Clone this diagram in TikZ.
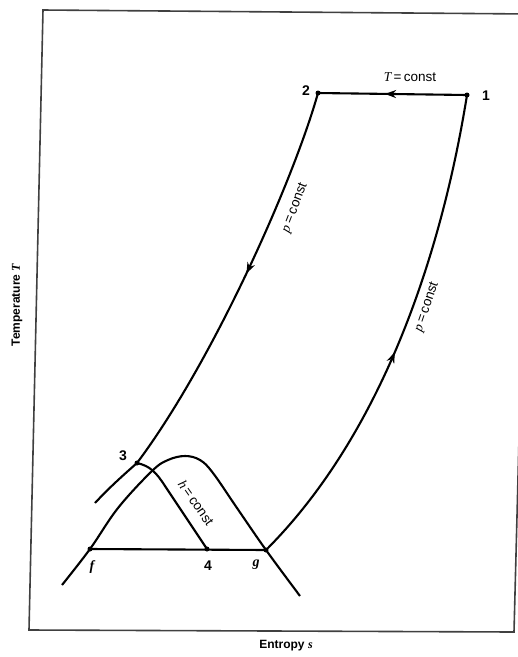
\documentclass[tikz,border=0pt]{standalone}
\usepackage{fontspec}
\setmainfont{Liberation Sans}
\newfontfamily\serifit{Liberation Serif}
\usetikzlibrary{arrows.meta,decorations.markings}
\begin{document}
\begin{tikzpicture}[x=1pt,y=-1pt,
  curve/.style={line width=2.1pt,black},
  framel/.style={line width=1.6pt,black!75},
  dot/.style={circle,fill=black,inner sep=0pt,minimum size=5pt},
  lbl/.style={font=\fontsize{14}{14}\selectfont\bfseries,inner sep=1pt},
  clbl/.style={font=\fontsize{13.5}{14}\selectfont,inner sep=1pt},
  axl/.style={font=\fontsize{12}{13}\selectfont\bfseries,inner sep=1pt},
  midarrow/.style={postaction={decorate},decoration={markings,
    mark=at position #1 with {\arrow{Stealth[length=11pt,width=8pt]}}}}
]
\useasboundingbox (0,0) rectangle (518,657);
\clip (0,0) rectangle (518,657);
\fill[white] (0,0) rectangle (518,657);
% frame
\draw[framel] (43,10) -- (530,14) -- (514,632) -- (29,630) -- cycle;
% state points
\node[dot] (p1) at (467,95) {};
\node[dot] (p2) at (318,93) {};
\node[dot] (p3) at (137,463) {};
\node[dot] (pf) at (90,549) {};
\node[dot] (p4) at (207,549) {};
\node[dot] (pg) at (266,550) {};
\coordinate (c3end) at (95,503);
% isotherm 1 -> 2
\draw[curve,midarrow=0.55] (p1.center) -- (p2.center);
% isobar 2 -> 3
\draw[curve,midarrow=0.47] (p2.center) .. controls (293,182) and (212,363) .. (p3.center);
\draw[curve] (p3.center) .. controls (120,478) and (108,489) .. (c3end);
% isobar g -> 1
\draw[curve,midarrow=0.47] (pg.center) .. controls (386,430) and (443,245) .. (p1.center);
% saturation dome
\draw[curve] plot[smooth,tension=0.6] coordinates {(62,585) (pf) (118,508) (152,471) (168,460) (185,456) (200,460) (213,473) (237,508) (pg) (300,596)};
% throttling h = const
\draw[curve] (p3.center) .. controls (150,466) and (156,472) .. (165,486) -- (p4.center);
% f-4-g
\draw[curve] (pf.center) -- (pg.center);
% labels
\node[lbl] (l1) at (486,96) {1};
\node[lbl] (l2) at (306,91) {2};
\node[lbl] (l3) at (123,456) {3};
\node[lbl] (lf) at (92,567) {\serifit\itshape f};
\node[lbl] (l4) at (208,566) {4};
\node[lbl] (lg) at (256,565) {\serifit\itshape g};
\node[clbl] (lT) at (410,77) {{\serifit\itshape T}\,=\,const};
\node[clbl,rotate=69] (lpa) at (295,208) {{\serifit\itshape p}\,=\,const};
\node[clbl,rotate=71] (lpb) at (427,307) {{\serifit\itshape p}\,=\,const};
\node[clbl,rotate=-55] (lh) at (196,503) {{\serifit\itshape h}\,=\,const};
\node[axl,rotate=90] (ly) at (17,305) {Temperature {\serifit\itshape T}};
\node[axl] (lx) at (286,646) {Entropy {\serifit\itshape s}};
\end{tikzpicture}
\end{document}
